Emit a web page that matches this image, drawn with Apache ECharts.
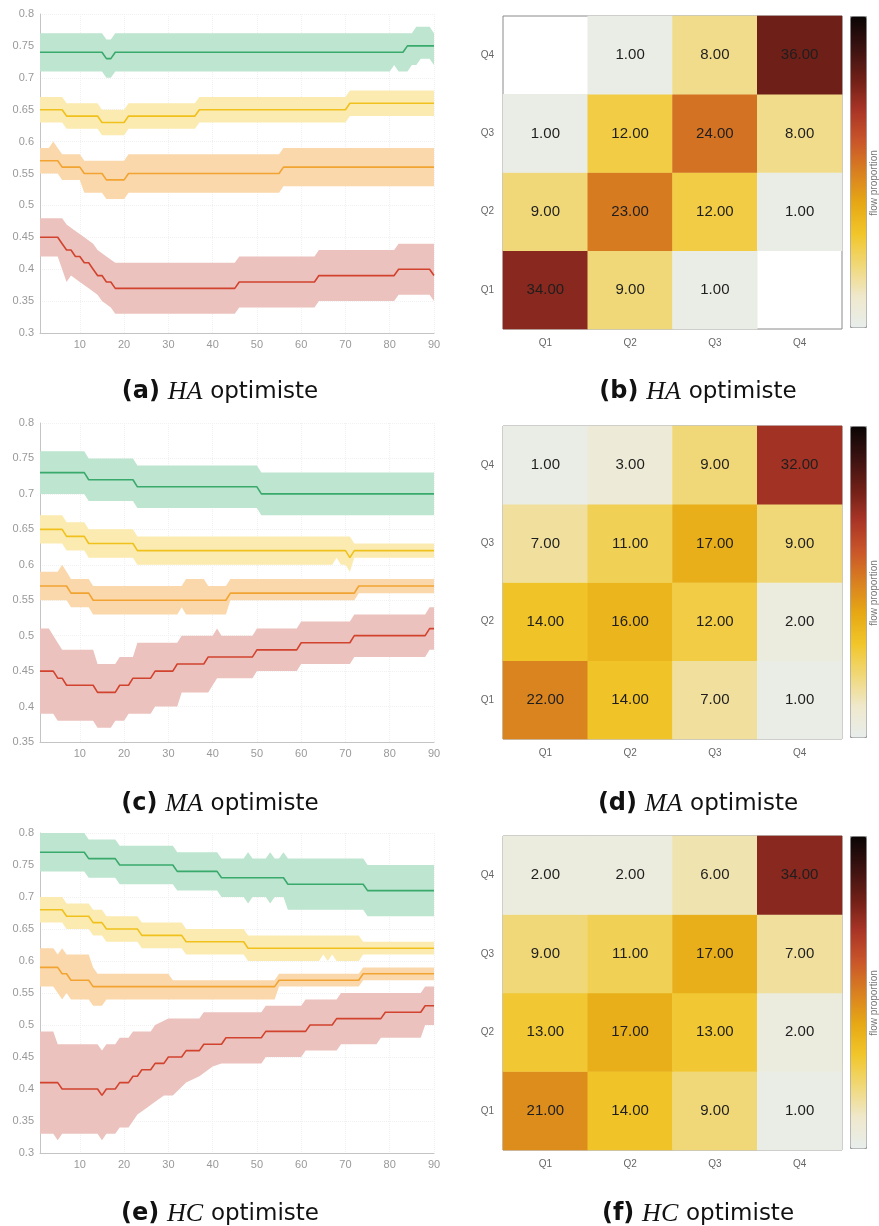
<!DOCTYPE html>
<html>
<head>
<meta charset="utf-8">
<script src="https://cdn.jsdelivr.net/npm/echarts@6/dist/echarts.min.js"></script>
<style>
  html, body { margin: 0; padding: 0; background: #fff; }
  #chart { width: 879px; height: 1226px; }
</style>
</head>
<body>
<div id="chart"></div>
<script>
  // ---- data: step curves as [x, value] vertices ----
  var xTicks = [10, 20, 30, 40, 50, 60, 70, 80, 90];
  var quartiles = ['Q1', 'Q2', 'Q3', 'Q4'];

  // (a) HA optimiste
  var haGreenMean = [[1,0.74],[15,0.74],[16,0.73],[17,0.73],[18,0.74],[83,0.74],[84,0.75],[90,0.75]];
  var haGreenUp = [[1,0.77],[15,0.77],[16,0.76],[17,0.76],[18,0.77],[85,0.77],[86,0.78],[89,0.78],[90,0.77]];
  var haGreenLo = [[1,0.71],[15,0.71],[16,0.70],[17,0.70],[18,0.71],[80,0.71],[81,0.72],[82,0.71],[84,0.71],[85,0.72],[86,0.72],[87,0.73],[89,0.73],[90,0.72]];
  var haYellowMean = [[1,0.65],[6,0.65],[7,0.64],[14,0.64],[15,0.63],[20,0.63],[21,0.64],[36,0.64],[37,0.65],[70,0.65],[71,0.66],[90,0.66]];
  var haYellowUp = [[1,0.67],[6,0.67],[7,0.66],[14,0.66],[15,0.65],[20,0.65],[21,0.66],[36,0.66],[37,0.67],[70,0.67],[71,0.68],[90,0.68]];
  var haYellowLo = [[1,0.63],[6,0.63],[7,0.62],[14,0.62],[15,0.61],[20,0.61],[21,0.62],[36,0.62],[37,0.63],[70,0.63],[71,0.64],[90,0.64]];
  var haOrangeMean = [[1,0.57],[5,0.57],[6,0.56],[10,0.56],[11,0.55],[15,0.55],[16,0.54],[20,0.54],[21,0.55],[55,0.55],[56,0.56],[90,0.56]];
  var haOrangeUp = [[1,0.59],[3,0.59],[4,0.60],[5,0.59],[6,0.58],[10,0.58],[11,0.57],[20,0.57],[21,0.58],[55,0.58],[56,0.59],[90,0.59]];
  var haOrangeLo = [[1,0.55],[5,0.55],[6,0.54],[10,0.54],[11,0.52],[15,0.52],[16,0.51],[20,0.51],[21,0.52],[55,0.52],[56,0.53],[90,0.53]];
  var haRedMean = [[1,0.45],[5,0.45],[6,0.44],[7,0.43],[8,0.43],[9,0.42],[10,0.42],[11,0.41],[12,0.41],[13,0.40],[14,0.39],[15,0.39],[16,0.38],[17,0.38],[18,0.37],[45,0.37],[46,0.38],[63,0.38],[64,0.39],[81,0.39],[82,0.40],[89,0.40],[90,0.39]];
  var haRedUp = [[1,0.48],[6,0.48],[7,0.47],[9,0.46],[11,0.45],[13,0.44],[14,0.43],[16,0.42],[18,0.41],[45,0.41],[46,0.42],[63,0.42],[64,0.43],[81,0.43],[82,0.44],[90,0.44]];
  var haRedLo = [[1,0.42],[5,0.42],[6,0.40],[7,0.38],[8,0.39],[10,0.38],[12,0.37],[14,0.36],[15,0.35],[17,0.34],[18,0.33],[45,0.33],[46,0.34],[63,0.34],[64,0.35],[81,0.35],[82,0.36],[89,0.36],[90,0.35]];

  // (c) MA optimiste
  var maGreenMean = [[1,0.73],[11,0.73],[12,0.72],[22,0.72],[23,0.71],[50,0.71],[51,0.70],[90,0.70]];
  var maGreenUp = [[1,0.76],[11,0.76],[12,0.75],[22,0.75],[23,0.74],[50,0.74],[51,0.73],[90,0.73]];
  var maGreenLo = [[1,0.70],[11,0.70],[12,0.69],[22,0.69],[23,0.68],[50,0.68],[51,0.67],[90,0.67]];
  var maYellowMean = [[1,0.65],[6,0.65],[7,0.64],[11,0.64],[12,0.63],[22,0.63],[23,0.62],[70,0.62],[71,0.61],[72,0.62],[90,0.62]];
  var maYellowUp = [[1,0.67],[6,0.67],[7,0.66],[11,0.66],[12,0.65],[22,0.65],[23,0.64],[71,0.64],[72,0.63],[90,0.63]];
  var maYellowLo = [[1,0.63],[6,0.63],[7,0.62],[11,0.62],[12,0.61],[22,0.61],[23,0.60],[67,0.60],[68,0.61],[69,0.60],[70,0.60],[71,0.59],[72,0.61],[90,0.61]];
  var maOrangeMean = [[1,0.57],[7,0.57],[8,0.56],[12,0.56],[13,0.55],[43,0.55],[44,0.56],[72,0.56],[73,0.57],[90,0.57]];
  var maOrangeUp = [[1,0.59],[5,0.59],[6,0.60],[7,0.59],[8,0.58],[12,0.58],[13,0.57],[33,0.57],[34,0.58],[38,0.58],[39,0.57],[43,0.57],[44,0.58],[90,0.58]];
  var maOrangeLo = [[1,0.55],[7,0.55],[8,0.54],[12,0.54],[13,0.53],[32,0.53],[33,0.54],[34,0.53],[43,0.53],[44,0.55],[72,0.55],[73,0.56],[90,0.56]];
  var maRedMean = [[1,0.45],[4,0.45],[5,0.44],[6,0.44],[7,0.43],[13,0.43],[14,0.42],[18,0.42],[19,0.43],[21,0.43],[22,0.44],[26,0.44],[27,0.45],[31,0.45],[32,0.46],[38,0.46],[39,0.47],[49,0.47],[50,0.48],[59,0.48],[60,0.49],[71,0.49],[72,0.50],[88,0.50],[89,0.51],[90,0.51]];
  var maRedUp = [[1,0.51],[3,0.51],[5,0.49],[6,0.48],[13,0.48],[14,0.46],[18,0.46],[19,0.47],[22,0.47],[23,0.49],[32,0.49],[33,0.50],[40,0.50],[41,0.51],[42,0.50],[49,0.50],[50,0.51],[59,0.51],[60,0.52],[71,0.52],[72,0.53],[88,0.53],[89,0.54],[90,0.54]];
  var maRedLo = [[1,0.39],[4,0.39],[5,0.38],[6,0.38],[13,0.38],[14,0.37],[17,0.37],[18,0.38],[20,0.38],[21,0.39],[26,0.39],[27,0.40],[32,0.40],[33,0.42],[39,0.42],[40,0.43],[41,0.44],[49,0.44],[50,0.45],[59,0.45],[60,0.46],[71,0.46],[72,0.47],[88,0.47],[89,0.48],[90,0.48]];

  // (e) HC optimiste
  var hcGreenMean = [[1,0.77],[11,0.77],[12,0.76],[18,0.76],[19,0.75],[31,0.75],[32,0.74],[41,0.74],[42,0.73],[56,0.73],[57,0.72],[74,0.72],[75,0.71],[90,0.71]];
  var hcGreenUp = [[1,0.80],[11,0.80],[12,0.79],[18,0.79],[19,0.78],[31,0.78],[32,0.77],[41,0.77],[42,0.76],[47,0.76],[48,0.77],[49,0.76],[52,0.76],[53,0.77],[54,0.76],[55,0.76],[56,0.77],[57,0.76],[74,0.76],[75,0.75],[90,0.75]];
  var hcGreenLo = [[1,0.74],[11,0.74],[12,0.73],[18,0.73],[19,0.72],[31,0.72],[32,0.71],[41,0.71],[42,0.70],[47,0.70],[48,0.69],[49,0.70],[52,0.70],[53,0.69],[54,0.70],[56,0.70],[57,0.68],[74,0.68],[75,0.67],[90,0.67]];
  var hcYellowMean = [[1,0.68],[6,0.68],[7,0.67],[12,0.67],[13,0.66],[15,0.66],[16,0.65],[23,0.65],[24,0.64],[33,0.64],[34,0.63],[47,0.63],[48,0.62],[90,0.62]];
  var hcYellowUp = [[1,0.70],[6,0.70],[7,0.69],[12,0.69],[13,0.68],[15,0.68],[16,0.67],[23,0.67],[24,0.66],[33,0.66],[34,0.65],[47,0.65],[48,0.64],[73,0.64],[74,0.63],[90,0.63]];
  var hcYellowLo = [[1,0.66],[6,0.66],[7,0.65],[12,0.65],[13,0.64],[15,0.64],[16,0.63],[23,0.63],[24,0.62],[33,0.62],[34,0.61],[47,0.61],[48,0.60],[64,0.60],[65,0.61],[66,0.60],[67,0.61],[68,0.60],[73,0.60],[74,0.61],[90,0.61]];
  var hcOrangeMean = [[1,0.59],[5,0.59],[6,0.58],[7,0.58],[8,0.57],[12,0.57],[13,0.56],[54,0.56],[55,0.57],[73,0.57],[74,0.58],[90,0.58]];
  var hcOrangeUp = [[1,0.62],[4,0.62],[5,0.61],[6,0.62],[7,0.61],[12,0.61],[13,0.59],[14,0.58],[30,0.58],[31,0.57],[54,0.57],[55,0.58],[73,0.58],[74,0.59],[90,0.59]];
  var hcOrangeLo = [[1,0.56],[4,0.56],[5,0.55],[6,0.54],[7,0.55],[8,0.54],[12,0.54],[13,0.53],[15,0.53],[16,0.54],[54,0.54],[55,0.56],[73,0.56],[74,0.57],[90,0.57]];
  var hcRedMean = [[1,0.41],[5,0.41],[6,0.40],[14,0.40],[15,0.39],[16,0.40],[18,0.40],[19,0.41],[21,0.41],[22,0.42],[23,0.42],[24,0.43],[26,0.43],[27,0.44],[29,0.44],[30,0.45],[33,0.45],[34,0.46],[37,0.46],[38,0.47],[42,0.47],[43,0.48],[51,0.48],[52,0.49],[61,0.49],[62,0.50],[67,0.50],[68,0.51],[78,0.51],[79,0.52],[87,0.52],[88,0.53],[90,0.53]];
  var hcRedUp = [[1,0.49],[4,0.49],[5,0.47],[14,0.47],[15,0.46],[16,0.47],[18,0.47],[19,0.48],[21,0.48],[22,0.49],[26,0.49],[27,0.50],[30,0.51],[37,0.51],[38,0.52],[51,0.52],[52,0.53],[60,0.53],[61,0.54],[68,0.54],[69,0.55],[87,0.55],[88,0.56],[90,0.56]];
  var hcRedLo = [[1,0.33],[4,0.33],[5,0.32],[6,0.33],[14,0.33],[15,0.32],[16,0.33],[18,0.33],[19,0.34],[21,0.34],[22,0.35],[23,0.36],[25,0.37],[27,0.38],[29,0.39],[31,0.39],[34,0.41],[37,0.42],[40,0.435],[42,0.44],[51,0.44],[52,0.45],[60,0.45],[61,0.46],[68,0.46],[69,0.47],[77,0.47],[78,0.48],[87,0.48],[88,0.50],[90,0.50]];

  // flow matrices, rows = destination quartile Q1..Q4 (bottom to top), cols = Q1..Q4
  var flowHA = [[34, 9, 1, null], [9, 23, 12, 1], [1, 12, 24, 8], [null, 1, 8, 36]];
  var flowMA = [[22, 14, 7, 1], [14, 16, 12, 2], [7, 11, 17, 9], [1, 3, 9, 32]];
  var flowHC = [[21, 14, 9, 1], [13, 17, 13, 2], [9, 11, 17, 7], [2, 2, 6, 34]];

  var captions = [
    ['(a)', 'HA', 'optimiste'], ['(b)', 'HA', 'optimiste'],
    ['(c)', 'MA', 'optimiste'], ['(d)', 'MA', 'optimiste'],
    ['(e)', 'HC', 'optimiste'], ['(f)', 'HC', 'optimiste']
  ];

  // ---- styling ----
  var GREEN = ['#3aa96c', '#bde5cf'];
  var YELLOW = ['#f0c11d', '#fbebb0'];
  var ORANGE = ['#f2a432', '#fad8ab'];
  var RED = ['#d2432f', '#ebc2bd'];
  var heatColors = ['#e8eeec', '#efe8cc', '#f0d878', '#f1c62a', '#e6a815', '#d98020',
                    '#c9552a', '#a83426', '#6e1f17', '#3a1210', '#0a0505'];

  var chart = echarts.init(document.getElementById('chart'), null, { renderer: 'canvas' });

  var lineGrids = [
    { left: 40, top: 14, width: 394, height: 319 },
    { left: 40, top: 423, width: 394, height: 319 },
    { left: 40, top: 833, width: 394, height: 320 }
  ];
  var heatGrids = [
    { left: 503, top: 16, width: 339, height: 313 },
    { left: 503, top: 426, width: 339, height: 313 },
    { left: 503, top: 836, width: 339, height: 314 }
  ];
  var yMins = [0.3, 0.35, 0.3];

  var grids = [], xAxes = [], yAxes = [], series = [], visualMaps = [], titles = [], graphics = [];

  lineGrids.forEach(function (g, i) {
    grids.push(g);
    xAxes.push({
      type: 'value', gridIndex: i, min: 1, max: 90,
      axisLine: { lineStyle: { color: '#c4c4c4' } },
      axisTick: { show: false, customValues: xTicks },
      axisLabel: { customValues: xTicks, color: '#999', fontSize: 11, margin: 6, fontFamily: 'Liberation Sans' },
      splitLine: { show: true, lineStyle: { color: '#f1f1f1', type: 'dotted' } }
    });
    yAxes.push({
      type: 'value', gridIndex: i, min: yMins[i], max: 0.8, interval: 0.05,
      axisLine: { show: true, lineStyle: { color: '#c4c4c4' } },
      axisTick: { show: false },
      axisLabel: { color: '#999', fontSize: 11, margin: 6, fontFamily: 'Liberation Sans',
                   formatter: function (v) { return String(+v.toFixed(2)); } },
      splitLine: { show: true, lineStyle: { color: '#f1f1f1', type: 'dotted' } }
    });
  });

  heatGrids.forEach(function (g, i) {
    grids.push(Object.assign({ show: true, borderColor: '#8a8a8a', borderWidth: 1, backgroundColor: 'transparent' }, g));
    var k = i + 3;
    xAxes.push({
      type: 'category', gridIndex: k, data: quartiles,
      axisLine: { show: false }, axisTick: { show: false },
      axisLabel: { color: '#666', fontSize: 10, margin: 9, fontFamily: 'Liberation Sans' },
      splitLine: { show: false }
    });
    yAxes.push({
      type: 'category', gridIndex: k, data: quartiles,
      axisLine: { show: false }, axisTick: { show: false },
      axisLabel: { color: '#666', fontSize: 10, margin: 9, fontFamily: 'Liberation Sans' },
      splitLine: { show: false }
    });
  });

  function bandSeries(gi, up, lo, color) {
    return {
      type: 'custom', xAxisIndex: gi, yAxisIndex: gi, silent: true, z: 1,
      data: [up[0]],
      renderItem: function (params, api) {
        var pts = up.map(function (p) { return api.coord(p); })
          .concat(lo.slice().reverse().map(function (p) { return api.coord(p); }));
        return { type: 'polygon', shape: { points: pts }, style: { fill: color } };
      }
    };
  }
  function meanSeries(gi, data, color) {
    return {
      type: 'line', xAxisIndex: gi, yAxisIndex: gi, data: data, silent: true, z: 3,
      symbol: 'none', lineStyle: { color: color, width: 1.6 }, itemStyle: { color: color }
    };
  }

  var panels = [
    [[haGreenMean, haGreenUp, haGreenLo, GREEN], [haYellowMean, haYellowUp, haYellowLo, YELLOW],
     [haOrangeMean, haOrangeUp, haOrangeLo, ORANGE], [haRedMean, haRedUp, haRedLo, RED]],
    [[maGreenMean, maGreenUp, maGreenLo, GREEN], [maYellowMean, maYellowUp, maYellowLo, YELLOW],
     [maOrangeMean, maOrangeUp, maOrangeLo, ORANGE], [maRedMean, maRedUp, maRedLo, RED]],
    [[hcGreenMean, hcGreenUp, hcGreenLo, GREEN], [hcYellowMean, hcYellowUp, hcYellowLo, YELLOW],
     [hcOrangeMean, hcOrangeUp, hcOrangeLo, ORANGE], [hcRedMean, hcRedUp, hcRedLo, RED]]
  ];
  panels.forEach(function (curves, gi) {
    curves.forEach(function (c) { series.push(bandSeries(gi, c[1], c[2], c[3][1])); });
    curves.forEach(function (c) { series.push(meanSeries(gi, c[0], c[3][0])); });
  });

  [flowHA, flowMA, flowHC].forEach(function (m, i) {
    var data = [];
    m.forEach(function (row, r) {
      row.forEach(function (v, c) { if (v !== null) data.push([c, r, v]); });
    });
    visualMaps.push({
      type: 'continuous', seriesIndex: series.length, min: 0, max: 45,
      calculable: false, realtime: false, text: null,
      left: 850, top: heatGrids[i].top, itemWidth: 16, itemHeight: heatGrids[i].height - 2,
      padding: 0, borderColor: '#9a9a9a', borderWidth: 1,
      inRange: { color: heatColors }
    });
    series.push({
      type: 'heatmap', xAxisIndex: i + 3, yAxisIndex: i + 3, data: data, silent: true,
      label: { show: true, color: '#1e1e1e', fontSize: 15, fontFamily: 'Liberation Sans',
               formatter: function (p) { return p.value[2].toFixed(2); } },
      itemStyle: { borderWidth: 0 }
    });
    graphics.push({
      type: 'text', x: 874, y: heatGrids[i].top + 167, rotation: Math.PI / 2,
      style: { text: 'flow proportion', fill: '#777', font: '10px "Liberation Sans"',
               align: 'center', verticalAlign: 'middle' }
    });
  });

  var capTops = [374, 786, 1196];
  captions.forEach(function (c, i) {
    titles.push({
      left: i % 2 === 0 ? 215 : 693, top: capTops[Math.floor(i / 2)], textAlign: 'center',
      text: '{b|' + c[0] + '}  {i|' + c[1] + '}  {n|' + c[2] + '}',
      textStyle: {
        fontWeight: 'normal', fontSize: 14,
        rich: {
          b: { fontFamily: 'DejaVu Sans', fontWeight: 'bold', fontSize: 24, color: '#111' },
          i: { fontFamily: 'Liberation Serif', fontStyle: 'italic', fontWeight: 'normal', fontSize: 26, color: '#111' },
          n: { fontFamily: 'DejaVu Sans', fontWeight: 'normal', fontSize: 23, color: '#111' }
        }
      }
    });
  });

  var option = {
    animation: false,
    backgroundColor: '#fff',
    title: titles,
    grid: grids,
    xAxis: xAxes,
    yAxis: yAxes,
    visualMap: visualMaps,
    graphic: graphics,
    series: series
  };

  chart.setOption(option);
  window.addEventListener('resize', chart.resize);
</script>
</body>
</html>
